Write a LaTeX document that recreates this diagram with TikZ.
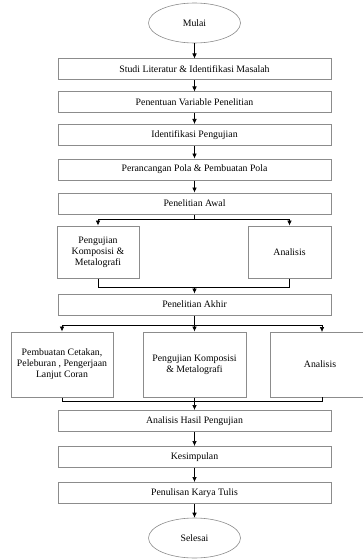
\documentclass[tikz,border=0pt]{standalone}
\usepackage{fontspec}
\setmainfont{Liberation Serif}
\usetikzlibrary{arrows.meta}
\usetikzlibrary{shapes.geometric}
\usetikzlibrary{positioning}

\tikzset{
  langkah/.style={draw=gray!90,line width=1pt,minimum width=273pt,minimum height=21pt,inner sep=1pt,font=\fontsize{9.8}{11}\selectfont},
  cabang/.style={draw=gray!90,line width=1pt,align=center,inner sep=2pt,font=\fontsize{9.8}{11}\selectfont},
  ujung/.style={ellipse,draw=gray!90,line width=0.6pt,minimum width=92pt,minimum height=40pt,font=\fontsize{9.8}{11}\selectfont},
  garis/.style={line width=0.6pt,black}
}

\begin{document}
\begin{tikzpicture}[x=1pt,y=-1pt,node distance=33.5pt,auto,>={Latex[length=5pt,width=4.5pt]}]
      \useasboundingbox (0,0) rectangle (362,559);
      \node (mulai) [ujung] at (194.5,23) {Mulai};
      \node (studi) [langkah] at (194.5,69.5) {Studi Literatur \& Identifikasi Masalah};
      \node (variabel) [langkah,below of=studi,node distance=33pt] {Penentuan Variable Penelitian};
      \node (identif) [langkah,below of=variabel,node distance=32.5pt] {Identifikasi Pengujian};
      \node (rancang) [langkah,below of=identif,node distance=34.5pt] {Perancangan Pola \& Pembuatan Pola};
      \node (awal) [langkah,below of=rancang,node distance=34pt] {Penelitian Awal};
      \node (uji1) [cabang,minimum width=82pt,minimum height=52pt] at (98,252) {Pengujian\\Komposisi \&\\Metalografi};
      \node (anl1) [cabang,minimum width=83pt,minimum height=52pt] at (289.5,252) {Analisis};
      \node (akhir) [langkah] at (194.5,304.5) {Penelitian Akhir};
      \node (cetak) [cabang,minimum width=102pt,minimum height=65pt] at (62,364.5) {Pembuatan Cetakan,\\Peleburan , Pengerjaan\\Lanjut Coran};
      \node (uji2) [cabang,minimum width=103pt,minimum height=65pt] at (194.5,364.5) {Pengujian Komposisi\\\& Metalografi};
      \node (anl2) [cabang,minimum width=100pt,minimum height=65pt] at (320,364.5) {Analisis};
      \node (hasil) [langkah] at (194.5,421) {Analisis Hasil Pengujian};
      \node (simpul) [langkah,below of=hasil,node distance=36pt] {Kesimpulan};
      \node (tulis) [langkah,below of=simpul,node distance=36pt] {Penulisan Karya Tulis};
      \node (selesai) [ujung] at (194.5,538) {Selesai};
      % alur utama
      \draw[garis,->] (mulai) -- (studi);
      \draw[garis,->] (studi) -- (variabel);
      \draw[garis,->] (variabel) -- (identif);
      \draw[garis,->] (identif) -- (rancang);
      \draw[garis,->] (rancang) -- (awal);
      % penelitian awal
      \coordinate (p1) at (194.5,219);
      \draw[garis] (awal) -- (p1);
      \draw[garis,->] (p1) -| (uji1);
      \draw[garis,->] (p1) -| (anl1);
      \coordinate (g1) at (194.5,287);
      \draw[garis] (uji1) |- (g1);
      \draw[garis] (anl1) |- (g1);
      \draw[garis,->] (g1) -- (akhir);
      % penelitian akhir
      \coordinate (p2) at (194.5,325);
      \coordinate (p2r) at (322,325);
      \coordinate (a2r) at (322,332);
      \draw[garis] (akhir) -- (p2);
      \draw[garis,->] (p2) -| (cetak);
      \draw[garis,->] (p2) -- (uji2);
      \draw[garis] (p2) -- (p2r);
      \draw[garis,->] (p2r) -- (a2r);
      \coordinate (g2) at (194.5,401);
      \coordinate (g2r) at (322,401);
      \coordinate (b2r) at (322,397);
      \draw[garis] (cetak) |- (g2);
      \draw[garis] (b2r) -- (g2r) -- (g2);
      \draw[garis,->] (uji2) -- (hasil);
      % penutup
      \draw[garis,->] (hasil) -- (simpul);
      \draw[garis,->] (simpul) -- (tulis);
      \draw[garis,->] (tulis) -- (selesai);
    \end{tikzpicture}
\end{document}
